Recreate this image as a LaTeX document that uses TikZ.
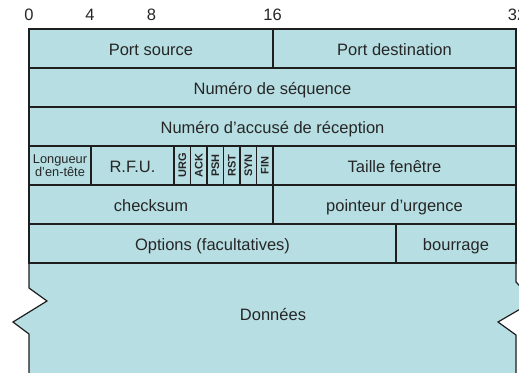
\documentclass[tikz,border=0pt]{standalone}
\usepackage{fontspec}
\setmainfont{Liberation Sans}
\usepackage{xcolor}
\usepackage{tikz}
\definecolor{segfill}{RGB}{183,223,227}
\definecolor{segline}{RGB}{30,30,30}

\begin{document}
\begin{tikzpicture}[x=1pt, y=-1pt,
  cell/.style={draw=segline, fill=segfill, line width=1.2pt, inner sep=0pt,
               minimum width=#1, minimum height=39pt, text=black!85,
               font=\fontsize{16.5}{18}\selectfont, text height=14.5pt, text depth=0pt},
  smallcell/.style={cell=#1, align=center, font=\fontsize{12.8}{11.5}\selectfont,
                    text height=, text depth=},
  flag/.style={draw=segline, fill=segfill, line width=1.2pt, inner sep=0pt,
               minimum width=39pt, minimum height=16.5pt, rotate=90, text=black!85,
               font=\bfseries\fontsize{11}{12}\selectfont, text height=7.9pt, text depth=0pt},
  bitnum/.style={anchor=base, text=black!85, font=\fontsize{16.5}{18}\selectfont}
]
  \useasboundingbox (0,0) rectangle (519,372);

  % bit positions
  \node[bitnum] (b0)  at (29,20.7)    {0};
  \node[bitnum] (b4)  at (90,20.7)    {4};
  \node[bitnum] (b8)  at (151.5,20.7) {8};
  \node[bitnum] (b16) at (272.5,20.7) {16};
  \node[bitnum] (b32) at (517,20.7)   {32};

  % data area, torn on both sides
  \draw[draw=segline, fill=segfill, line width=1.2pt]
    (29,263) -- (516,263) -- (516,282) -- (534,301) -- (498,322) -- (516,335)
    -- (516,390) -- (29,390) -- (29,334) -- (13,322) -- (47,301) -- (29,288) -- cycle;
  \node[text=black!85, font=\fontsize{16.5}{18}\selectfont] (data) at (273,315) {Données};

  % header rows
  \node[cell=244pt] (srcport) at (151,48.5)   {Port source};
  \node[cell=243pt] (dstport) at (394.5,48.5) {Port destination};

  \node[cell=487pt] (seqnum) at (272.5,87.5)  {Numéro de séquence};

  \node[cell=487pt] (acknum) at (272.5,126.5) {Numéro d’accusé de réception};

  \node[smallcell=62pt] (hdrlen) at (60,165.5)    {Longueur\\d’en-tête};
  \node[cell=83pt]      (rfu)    at (132.5,165.5) {R.F.U.};
  \node[flag] (furg) at (182.25,165.5) {URG};
  \node[flag] (fack) at (198.75,165.5) {ACK};
  \node[flag] (fpsh) at (215.25,165.5) {PSH};
  \node[flag] (frst) at (231.75,165.5) {RST};
  \node[flag] (fsyn) at (248.25,165.5) {SYN};
  \node[flag] (ffin) at (264.75,165.5) {FIN};
  \node[cell=243pt]     (window) at (394.5,165.5) {Taille fenêtre};

  \node[cell=244pt] (chksum) at (151,204.5)   {checksum};
  \node[cell=243pt] (urgptr) at (394.5,204.5) {pointeur d’urgence};

  \node[cell=367pt] (options) at (212.5,243.5) {Options (facultatives)};
  \node[cell=120pt] (padding) at (456,243.5)   {bourrage};
\end{tikzpicture}
\end{document}
